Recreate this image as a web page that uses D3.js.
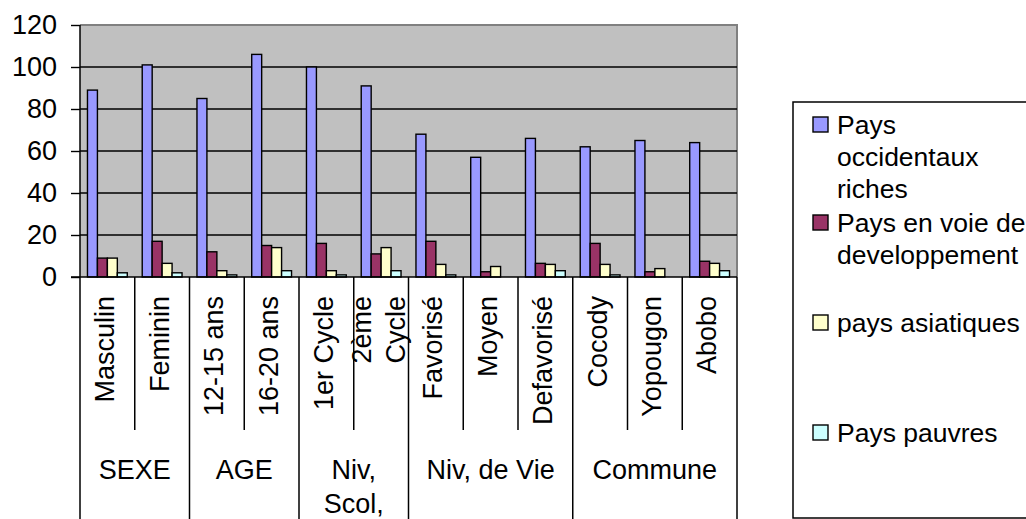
<!DOCTYPE html>
<html>
<head>
<meta charset="utf-8">
<script src="https://cdn.jsdelivr.net/npm/d3@7"></script>
<style>
  body { margin: 0; background: #fff; }
  text { font-family: "Liberation Sans", Arial, sans-serif; fill: #000; }
</style>
</head>
<body>
<div id="chart"></div>
<script>
var categories = ["Masculin", "Feminin", "12-15 ans", "16-20 ans", "1er Cycle", "2ème\nCycle",
  "Favorisé", "Moyen", "Defavorisé", "Cocody", "Yopougon", "Abobo"]
var groupNames = ["SEXE", "AGE", "Niv,\nScol,", "Niv, de Vie", "Commune"]
var groupSizes = [2, 2, 2, 3, 3]

var seriesNames = ["Pays\noccidentaux\nriches", "Pays en voie de\ndeveloppement", "pays asiatiques", "Pays pauvres"]
var seriesColors = ["#9999FF", "#993366", "#FFFFCC", "#CCFFFF"]

var richesValues = [89, 101, 85, 106, 100, 91, 68, 57, 66, 62, 65, 64]
var voieValues = [9, 17, 12, 15, 16, 11, 17, 2.5, 6.5, 16, 2.5, 7.5]
var asiatiquesValues = [9, 6.5, 3, 14, 3, 14, 6, 5, 6, 6, 4, 6.5]
var pauvresValues = [2, 2, 1, 3, 1, 3, 1, 0, 3, 1, 0, 3]

var yTicks = [0, 20, 40, 60, 80, 100, 120]

window.onload = function(){
  var w = 1026, h = 519
  var left = 80, right = 737, top = 25, bottom = 277

  var svg = d3.select('#chart').append('svg').attr('width', w).attr('height', h)

  var allSeries = [richesValues, voieValues, asiatiquesValues, pauvresValues]

  var x = d3.scaleBand().domain(d3.range(categories.length)).range([left, right]).padding(0)
  var xs = d3.scaleBand().domain(d3.range(4)).range([0, x.bandwidth()]).paddingInner(0).paddingOuter(0.75)
  var y = d3.scaleLinear().domain([0, 120]).range([bottom, top])

  // plot area
  svg.append('rect').attr('x', left).attr('y', top).attr('width', right - left).attr('height', bottom - top)
    .attr('fill', '#C0C0C0')
  svg.append('path').attr('d', 'M' + left + ',' + top + 'H' + right + 'V' + bottom)
    .attr('fill', 'none').attr('stroke', '#808080').attr('stroke-width', 2)

  // gridlines
  svg.append('g').selectAll('line').data(yTicks.filter(function(d){ return d > 0 && d < 120 })).enter().append('line')
    .attr('x1', left).attr('x2', right).attr('y1', function(d){ return y(d) }).attr('y2', function(d){ return y(d) })
    .attr('stroke', '#000').attr('stroke-width', 1.4)

  // bars
  allSeries.forEach(function(vals, si){
    svg.append('g').selectAll('rect').data(vals).enter().append('rect')
      .attr('x', function(d, i){ return x(i) + xs(si) })
      .attr('y', function(d){ return y(d) })
      .attr('width', xs.bandwidth())
      .attr('height', function(d){ return y(0) - y(d) })
      .attr('fill', seriesColors[si])
      .attr('stroke', '#000').attr('stroke-width', 1.4)
  })

  // y axis
  var yAxis = d3.axisLeft(y).tickValues(yTicks).tickSize(9).tickPadding(14)
  var ga = svg.append('g').attr('transform', 'translate(' + left + ',0)').call(yAxis)
  ga.select('.domain').remove()
  ga.selectAll('line').attr('stroke', '#000').attr('stroke-width', 1.4)
  ga.selectAll('text').style('font-size', '27px').style('font-family', '"Liberation Sans", Arial, sans-serif')

  svg.append('line').attr('x1', left).attr('x2', left).attr('y1', top).attr('y2', h)
    .attr('stroke', '#000').attr('stroke-width', 1.5)
  svg.append('line').attr('x1', left - 9).attr('x2', right).attr('y1', bottom).attr('y2', bottom)
    .attr('stroke', '#000').attr('stroke-width', 1.5)
  svg.append('line').attr('x1', right).attr('x2', right).attr('y1', bottom).attr('y2', h)
    .attr('stroke', '#000').attr('stroke-width', 1.5)

  // category dividers
  var starts = []
  var acc = 0
  groupSizes.forEach(function(n){ starts.push(acc); acc += n })
  d3.range(1, categories.length).forEach(function(i){
    var isGroup = starts.indexOf(i) >= 0
    svg.append('line').attr('x1', x(i)).attr('x2', x(i)).attr('y1', bottom).attr('y2', isGroup ? h : 430)
      .attr('stroke', '#000').attr('stroke-width', 1.5)
  })

  // category labels (rotated)
  categories.forEach(function(c, i){
    var lines = c.split('\n')
    var cx = x(i) + x.bandwidth() / 2
    var t = svg.append('text').attr('transform', 'translate(' + cx + ',296) rotate(-90)')
      .attr('text-anchor', 'end').style('font-size', '27px')
    lines.forEach(function(l, li){
      t.append('tspan').attr('x', 0).attr('y', (li - (lines.length - 1) / 2) * 34 - 3).attr('dy', '0.35em').text(l)
    })
  })

  // group labels
  groupNames.forEach(function(g, gi){
    var x0 = x(starts[gi]), x1 = gi + 1 < starts.length ? x(starts[gi + 1]) : right
    var t = svg.append('text').attr('text-anchor', 'middle').style('font-size', '27px')
    g.split('\n').forEach(function(l, li){
      t.append('tspan').attr('x', (x0 + x1) / 2).attr('y', 470 + li * 34).attr('dy', '0.35em').text(l)
    })
  })

  // legend
  svg.append('rect').attr('x', 793).attr('y', 102).attr('width', 260).attr('height', 416)
    .attr('fill', '#fff').attr('stroke', '#000').attr('stroke-width', 1.5)
  var legY = [125, 223, 323, 433]
  seriesNames.forEach(function(s, si){
    svg.append('rect').attr('x', 813).attr('y', legY[si] - 8).attr('width', 15).attr('height', 15)
      .attr('fill', seriesColors[si]).attr('stroke', '#000').attr('stroke-width', 1.4)
    var t = svg.append('text').style('font-size', '26.5px')
    s.split('\n').forEach(function(l, li){
      t.append('tspan').attr('x', 837).attr('y', legY[si] + li * 32).attr('dy', '0.35em').text(l)
    })
  })
}
</script>
</body>
</html>
